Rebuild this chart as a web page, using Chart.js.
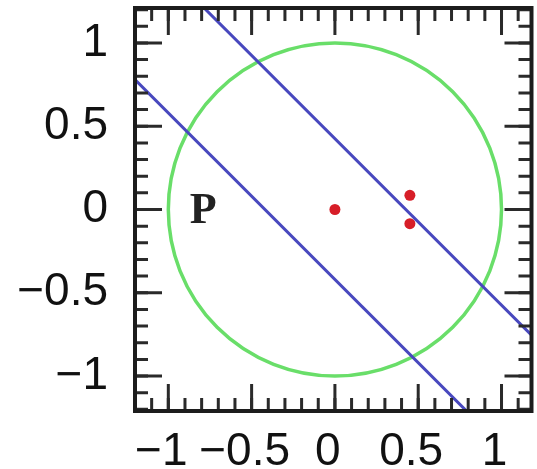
<!DOCTYPE html>
<html><head><meta charset="utf-8">
<script src="https://cdn.jsdelivr.net/npm/chart.js@4"></script>
<style>html,body{margin:0;padding:0;background:#fff}canvas{display:block}</style>
</head><body>
<canvas id="c" width="537" height="469"></canvas>
<script>
// ---- data ----
const xTickValues = [-1, -0.5, 0, 0.5, 1];
const yTickValues = [-1, -0.5, 0, 0.5, 1];
const minorTickValues = [-1.2, -1.1, -1.0, -0.9, -0.8, -0.7, -0.6, -0.5, -0.4, -0.3, -0.2, -0.1, 0,
  0.1, 0.2, 0.3, 0.4, 0.5, 0.6, 0.7, 0.8, 0.9, 1.0, 1.1, 1.2];
const redPoints = [{x: 0, y: 0}, {x: 0.45, y: 0.085}, {x: 0.45, y: -0.085}];
const upperLine = [{x: -0.8, y: 1.225}, {x: 1.2, y: -0.775}];
const lowerLine = [{x: -1.22, y: 0.80}, {x: 0.80, y: -1.22}];
const unitCircle = {cx: 0, cy: 0, r: 1};
const textLabels = [{text: 'P', x: -0.79, y: 0}];

const fmt = v => (v < 0 ? '\u2212' : '') + Math.abs(v);

const decor = {
  id: 'decor',
  beforeDatasetsDraw(chart) {
    const {ctx, scales: {x, y}} = chart;
    const cx = x.getPixelForValue(unitCircle.cx), cy = y.getPixelForValue(unitCircle.cy);
    const rx = Math.abs(x.getPixelForValue(unitCircle.cx + unitCircle.r) - cx);
    const ry = Math.abs(y.getPixelForValue(unitCircle.cy + unitCircle.r) - cy);
    ctx.save();
    ctx.strokeStyle = 'rgb(105,222,105)';
    ctx.lineWidth = 3.5;
    ctx.beginPath();
    ctx.ellipse(cx, cy, rx, ry, 0, 0, Math.PI * 2);
    ctx.stroke();
    ctx.restore();
  },
  afterDatasetsDraw(chart) {
    const {ctx, scales: {x, y}} = chart;
    ctx.save();
    ctx.fillStyle = '#222';
    ctx.font = 'bold 44px "Liberation Serif", "DejaVu Serif", serif';
    ctx.textAlign = 'center';
    ctx.textBaseline = 'middle';
    textLabels.forEach(t => ctx.fillText(t.text, x.getPixelForValue(t.x), y.getPixelForValue(t.y) + 2));
    ctx.restore();
  },
  afterDraw(chart) {
    const {ctx, chartArea: a, scales: {x, y}} = chart;
    ctx.save();
    ctx.strokeStyle = '#2a2a2a';
    ctx.lineWidth = 3;
    const drawTicks = (vals, len) => {
      vals.forEach(v => {
        const px = x.getPixelForValue(v);
        if (px >= a.left - 1 && px <= a.right + 1) {
          ctx.beginPath();
          ctx.moveTo(px, a.bottom); ctx.lineTo(px, a.bottom - len);
          ctx.moveTo(px, a.top); ctx.lineTo(px, a.top + len);
          ctx.stroke();
        }
        const py = y.getPixelForValue(v);
        if (py >= a.top - 1 && py <= a.bottom + 1) {
          ctx.beginPath();
          ctx.moveTo(a.left, py); ctx.lineTo(a.left + len, py);
          ctx.moveTo(a.right, py); ctx.lineTo(a.right - len, py);
          ctx.stroke();
        }
      });
    };
    drawTicks(minorTickValues, 13);
    drawTicks(xTickValues, 27);
    ctx.strokeStyle = '#1c1c1c';
    ctx.lineWidth = 4;
    ctx.strokeRect(a.left, a.top, a.right - a.left, a.bottom - a.top);
    ctx.restore();
  }
};

const tickFont = {family: '"Liberation Sans", Arial, sans-serif', size: 46};

new Chart(document.getElementById('c'), {
  type: 'scatter',
  data: {
    datasets: [
      {data: upperLine, showLine: true, borderColor: 'rgb(72,72,190)', borderWidth: 3, pointRadius: 0},
      {data: lowerLine, showLine: true, borderColor: 'rgb(72,72,190)', borderWidth: 3, pointRadius: 0},
      {data: redPoints, backgroundColor: 'rgb(215,30,40)', borderWidth: 0, pointRadius: 5.5, pointStyle: 'circle'}
    ]
  },
  options: {
    responsive: false,
    animation: false,
    events: [],
    layout: {padding: {top: 8, right: 2, left: 0, bottom: 0}},
    plugins: {legend: {display: false}, tooltip: {enabled: false}},
    scales: {
      x: {
        type: 'linear', min: -1.2, max: 1.18,
        grid: {display: false, drawTicks: false},
        border: {display: false},
        afterBuildTicks: s => { s.ticks = xTickValues.map(v => ({value: v})); },
        afterFit: s => { s.height = 58; s.paddingLeft = 0; s.paddingRight = 0; },
        ticks: {autoSkip: false, maxRotation: 0, minRotation: 0, padding: 14, labelOffset: -7,
          color: '#111', font: tickFont, callback: v => fmt(v)}
      },
      y: {
        type: 'linear', min: -1.21, max: 1.21,
        grid: {display: false, drawTicks: false},
        border: {display: false},
        afterBuildTicks: s => { s.ticks = yTickValues.map(v => ({value: v})); },
        afterFit: s => { s.width = 135; s.paddingTop = 0; s.paddingBottom = 0; },
        ticks: {autoSkip: false, padding: 27, color: '#111', font: tickFont, callback: v => fmt(v)}
      }
    }
  },
  plugins: [decor]
});
</script>
</body></html>
